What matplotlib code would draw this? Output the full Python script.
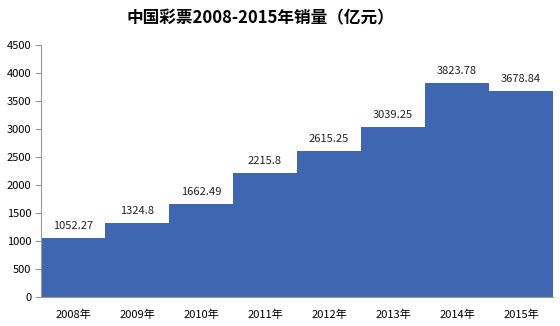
import matplotlib.pyplot as plt

plt.rcParams['font.family'] = ['Noto Sans CJK SC', 'DejaVu Sans']

# 数据
years = ['2008年', '2009年', '2010年', '2011年', '2012年', '2013年', '2014年', '2015年']
sales = [1052.27, 1324.8, 1662.49, 2215.8, 2615.25, 3039.25, 3823.78, 3678.84]
labels = ['1052.27', '1324.8', '1662.49', '2215.8', '2615.25', '3039.25', '3823.78', '3678.84']
yticks = [0, 500, 1000, 1500, 2000, 2500, 3000, 3500, 4000, 4500]

fig = plt.figure(figsize=(5.6, 3.26), dpi=100)
ax = fig.add_axes([0.0732, 0.089, 0.9143, 0.773])

x = list(range(len(years)))
ax.bar(x, sales, width=1.0, color='#3f66b0', linewidth=0)

for xi, v, t in zip(x, sales, labels):
    ax.annotate(t, (xi, v), xytext=(0, 5), textcoords='offset points',
                ha='center', va='bottom', fontsize=8, color='#222222')

ax.set_xlim(-0.5, len(years) - 0.5)
ax.set_ylim(0, 4500)
ax.set_yticks(yticks)
ax.set_yticklabels([str(t) for t in yticks], fontsize=8)
ax.set_xticks(x)
ax.set_xticklabels(years, fontsize=8)

for s in ['top', 'right']:
    ax.spines[s].set_visible(False)
ax.spines['left'].set_color('#999999')
ax.spines['bottom'].set_color('#999999')
ax.tick_params(axis='y', length=4, color='#999999', pad=3)
ax.tick_params(axis='x', length=0, pad=9)

fig.text(0.465, 0.945, '中国彩票2008-2015年销量（亿元）', ha='center', va='center',
         fontsize=12, fontweight='bold')

plt.savefig('out.png', dpi=100)
